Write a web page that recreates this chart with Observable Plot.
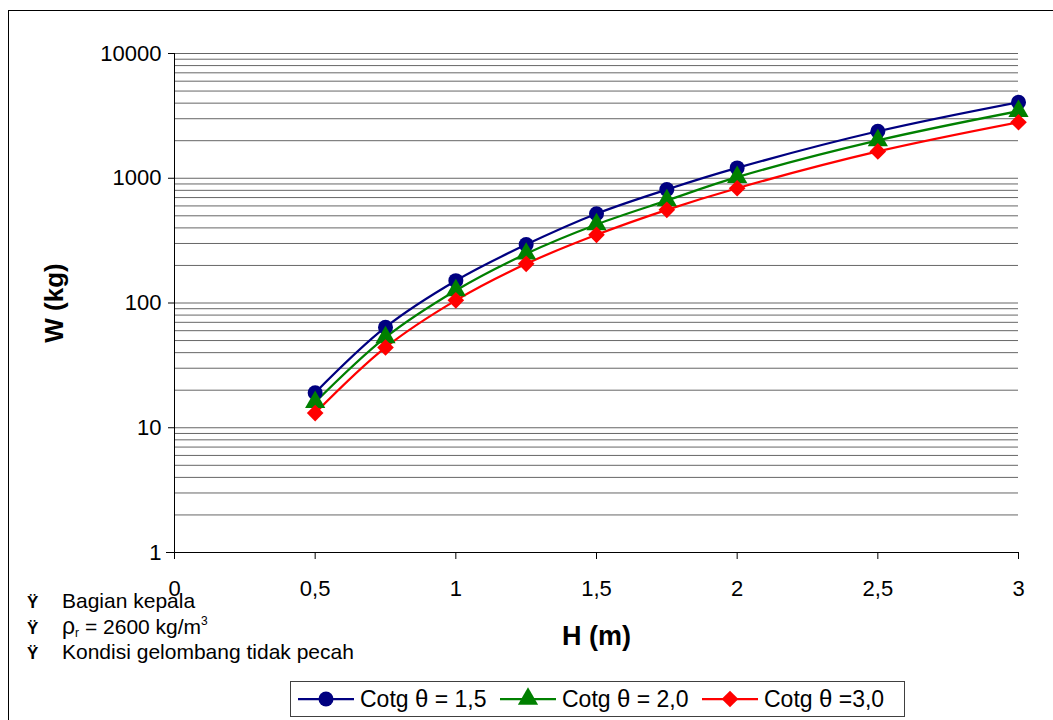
<!DOCTYPE html>
<html>
<head>
<meta charset="utf-8">
<script src="https://cdn.jsdelivr.net/npm/d3@7"></script>
<script src="https://cdn.jsdelivr.net/npm/@observablehq/plot@0.6"></script>
<style>
  html, body { margin: 0; padding: 0; background: #fff; overflow: hidden; }
  body { font-family: "Liberation Sans", Arial, sans-serif; }
  #wrap { position: relative; width: 1053px; height: 720px; overflow: hidden; }
  #border { position: absolute; left: 8px; top: 10px; width: 1100px; height: 800px; border: 1px solid #000; box-sizing: border-box; }
  #chart { position: absolute; left: 0; top: 0; }
  #chart svg { font-family: "Liberation Sans", Arial, sans-serif; }
  g[aria-label="y-axis label"] text { font-weight: bold; font-size: 26px; }
  g[aria-label="x-axis label"] text { font-weight: bold; font-size: 27px; }
  #notes { position: absolute; left: 27px; top: 588px; font-size: 21px; color: #000; }
  #notes > div { height: 25.5px; line-height: 25.5px; white-space: nowrap; }
  #notes .b { display: inline-block; width: 35px; font-weight: bold; font-size: 17px; }
  #notes sub { font-size: 12px; line-height: 0; vertical-align: -3px; }
  #notes sup { font-size: 12px; line-height: 0; vertical-align: 9px; }
  #notes .rho { font-size: 23px; }
  #legend { position: absolute; left: 290px; top: 681px; width: 615px; height: 36px; border: 1px solid #404040; box-sizing: border-box; display: flex; align-items: center; padding-left: 7px; font-size: 23px; }
  #legend .item { display: flex; align-items: center; width: 205px; white-space: nowrap; }
  #legend svg { margin-right: 6px; flex: none; }
  #legend .th { font-size: 24px; }
</style>
</head>
<body>
<div id="wrap">
  <div id="border"></div>
  <div id="chart"></div>
  <div id="notes"></div>
  <div id="legend"></div>
</div>
<script>
// ---- data ----
const H = [0.5, 0.75, 1, 1.25, 1.5, 1.75, 2, 2.5, 3];
const wCotg15 = [19.1, 64, 151, 294, 520, 812, 1210, 2380, 4070];
const wCotg20 = [16.0, 53, 126, 248, 426, 663, 1020, 2010, 3450];
const wCotg30 = [13.1, 44, 105, 206, 352, 558, 832, 1640, 2810];
const seriesNames = ["Cotg θ = 1,5", "Cotg θ = 2,0", "Cotg θ =3,0"];
const seriesColors = ["#000080", "#008000", "#FF0000"];
const seriesSymbols = ["circle", "triangle", "diamond2"];
const xTicks = [0, 0.5, 1, 1.5, 2, 2.5, 3];
const xTickLabels = ["0", "0,5", "1", "1,5", "2", "2,5", "3"];
const yTicks = [1, 10, 100, 1000, 10000];
const yTickLabels = ["1", "10", "100", "1000", "10000"];
const gridValues = [
  1, 2, 3, 4, 5, 6, 7, 8, 9,
  10, 20, 30, 40, 50, 60, 70, 80, 90,
  100, 200, 300, 400, 500, 600, 700, 800, 900,
  1000, 2000, 3000, 4000, 5000, 6000, 7000, 8000, 9000,
  10000
];
const notes = ["Bagian kepala", '<span class="rho">ρ</span><sub>r</sub> = 2600 kg/m<sup>3</sup>', "Kondisi gelombang tidak pecah"];

const seriesValues = [wCotg15, wCotg20, wCotg30];
const rows = seriesValues.map((vals, s) => H.map((h, i) => ({H: h, W: vals[i], s})));

const marks = [
  Plot.ruleY(gridValues, {stroke: "#666", strokeWidth: 1}),
  Plot.ruleY([1], {stroke: "#000", strokeWidth: 1, insetLeft: -8}),
  Plot.ruleX([0], {stroke: "#000", strokeWidth: 1}),
  Plot.axisY({
    ticks: yTicks,
    tickFormat: (d) => yTickLabels[yTicks.indexOf(d)],
    tickSize: 6,
    tickPadding: 7,
    fontSize: 22,
    label: "W (kg)",
    labelAnchor: "center",
    labelOffset: 130,
    labelArrow: "none"
  }),
  Plot.axisX({
    ticks: xTicks,
    tickFormat: (d) => xTickLabels[xTicks.indexOf(d)],
    tickSize: 7,
    tickPadding: 21,
    fontSize: 22,
    label: "H (m)",
    labelAnchor: "center",
    labelOffset: 92,
    labelArrow: "none"
  })
];
rows.forEach((r, s) => {
  marks.push(Plot.line(r, {x: "H", y: "W", stroke: seriesColors[s], strokeWidth: 2.25, curve: "catmull-rom"}));
});
rows.forEach((r, s) => {
  marks.push(Plot.dot(r, {x: "H", y: "W", fill: seriesColors[s], stroke: "none", symbol: seriesSymbols[s], r: 7.5}));
});

const chart = Plot.plot({
  width: 1053,
  height: 720,
  marginLeft: 174,
  marginRight: 35,
  marginTop: 53,
  marginBottom: 168,
  style: {background: "transparent", color: "#000", fontFamily: "Liberation Sans, Arial, sans-serif"},
  x: {domain: [0, 3]},
  y: {type: "log", domain: [1, 10000]},
  marks
});
document.getElementById("chart").appendChild(chart);

// notes
document.getElementById("notes").innerHTML = notes.map(t => `<div><span class="b">Ÿ</span>${t}</div>`).join("");

// legend
const legend = document.getElementById("legend");
seriesNames.forEach((name, s) => {
  const item = document.createElement("div");
  item.className = "item";
  const sym = d3.symbol(s === 0 ? d3.symbolCircle : s === 1 ? d3.symbolTriangle : d3.symbolDiamond2, Math.PI * 7.5 * 7.5)();
  item.innerHTML = `<svg width="56" height="24"><line x1="0" x2="56" y1="12" y2="12" stroke="${seriesColors[s]}" stroke-width="2.25"/><path d="${sym}" transform="translate(28,12)" fill="${seriesColors[s]}"/></svg><span>${name.replace("θ", '<span class="th">θ</span>')}</span>`;
  legend.appendChild(item);
});
</script>
</body>
</html>
